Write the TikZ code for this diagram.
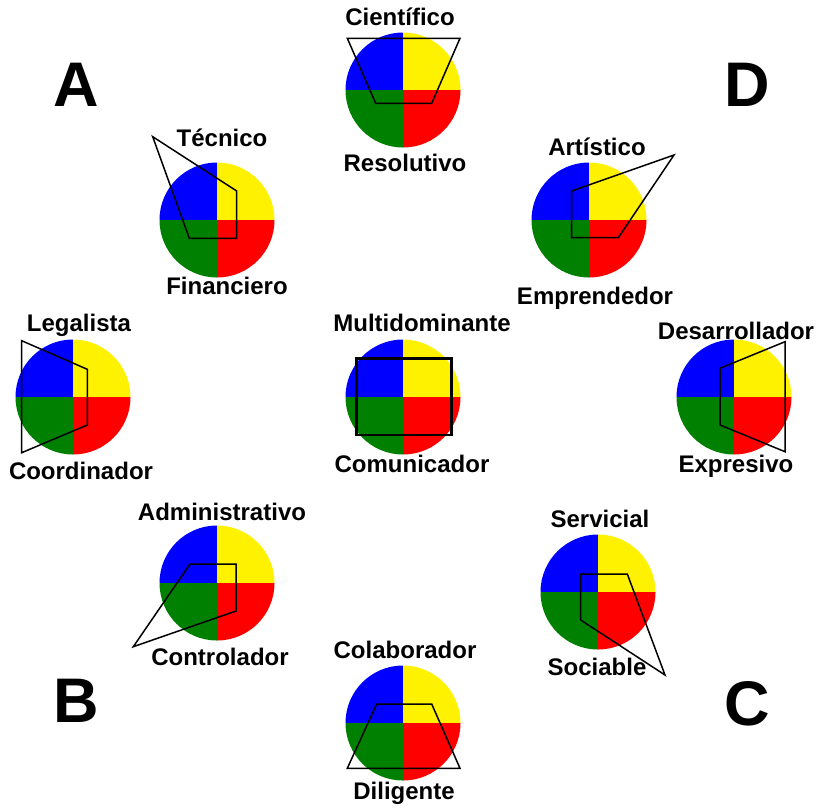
\documentclass[tikz,border=0pt]{standalone}
\usepackage{fontspec}
\setmainfont{Liberation Sans}
\usepackage{tikz}
\usetikzlibrary{calc,positioning}
\definecolor{verde}{RGB}{0,128,0}
\tikzset{etiqueta/.style={
    font=\fontsize{24}{28}\selectfont\bfseries,
    inner sep=0pt, text height=17pt, text depth=0pt
  },
  letra/.style={
    font=\fontsize{63}{70}\selectfont\bfseries,
    inner sep=0pt, text height=45pt, text depth=0pt
  },
  perfil/.style={draw=black, line width=1.5pt, line join=miter},
  perfil grueso/.style={draw=black, line width=2.6pt}
}

\begin{document}
\begin{tikzpicture}[x=1pt,y=-1pt]
    \useasboundingbox (0,0) rectangle (824,807);
    % circulos de cuadrantes
    \foreach \nm/\cx/\cy in {cien/403/90, tecn/217/220, arti/589/220,
                             lega/73/397, mult/403/397, desa/734/397,
                             admi/217/583, serv/598/592, cola/403/723}{
        \coordinate (\nm) at (\cx,\cy);
        \begin{scope}
            \clip (\nm) circle[radius=57.5];
            \fill[blue]   (\nm) rectangle ++(-60,-60);
            \fill[yellow] (\nm) rectangle ++(60,-60);
            \fill[red]    (\nm) rectangle ++(60,60);
            \fill[verde]  (\nm) rectangle ++(-60,60);
        \end{scope}
    }
    % letras de esquina
    \node[letra] (A) at (76,84) {A};
    \node[letra] (D) at (747.5,84) {D};
    \node[letra] (B) at (76.5,700) {B};
    \node[letra] (C) at (747.5,703) {C};
    % etiquetas
    \node[etiqueta] (cientifico)     at (400,17)    {Científico};
    \node[etiqueta] (resolutivo)     at (405,163)   {Resolutivo};
    \node[etiqueta] (tecnico)        at (222,137.5) {Técnico};
    \node[etiqueta] (financiero)     at (227,286)   {Financiero};
    \node[etiqueta] (artistico)      at (597,147)   {Artístico};
    \node[etiqueta] (emprendedor)    at (595,296)   {Emprendedor};
    \node[etiqueta] (legalista)      at (79,323)    {Legalista};
    \node[etiqueta] (coordinador)    at (81,471)    {Coordinador};
    \node[etiqueta] (multidominante) at (422,323)   {Multidominante};
    \node[etiqueta] (comunicador)    at (412,464)   {Comunicador};
    \node[etiqueta] (desarrollador)  at (736,331)   {Desarrollador};
    \node[etiqueta] (expresivo)      at (736,464)   {Expresivo};
    \node[etiqueta] (administrativo) at (222,512)   {Administrativo};
    \node[etiqueta] (controlador)    at (220,657)   {Controlador};
    \node[etiqueta] (servicial)      at (600,519)   {Servicial};
    \node[etiqueta] (sociable)       at (597,667)   {Sociable};
    \node[etiqueta] (colaborador)    at (405,650)   {Colaborador};
    \node[etiqueta] (diligente)      at (404,791)   {Diligente};
    % perfiles
    \draw[perfil] (347.3,38.3) -- (460,38.3) -- (431.7,103.3) -- (375.7,103.3) -- cycle;
    \draw[perfil] (152.7,136.7) -- (236.7,191) -- (236.7,238.3) -- (189.3,238.3) -- cycle;
    \draw[perfil] (571.7,191) -- (674,155) -- (618.3,237.7) -- (571.7,237.7) -- cycle;
    \draw[perfil] (21.7,340.7) -- (87.3,369.3) -- (87.3,425) -- (21.7,452.7) -- cycle;
    \draw[perfil grueso] (356.7,358.3) rectangle (451.7,435);
    \draw[perfil] (720,368.3) -- (785,341.7) -- (785,451.7) -- (720,425) -- cycle;
    \draw[perfil] (190,564) -- (236,564) -- (236,611) -- (133.3,646.7) -- cycle;
    \draw[perfil] (580.7,574) -- (627.3,574) -- (665,675) -- (580.7,620) -- cycle;
    \draw[perfil] (376.7,704) -- (431.7,704) -- (460,768.3) -- (347.3,768.3) -- cycle;
\end{tikzpicture}
\end{document}
